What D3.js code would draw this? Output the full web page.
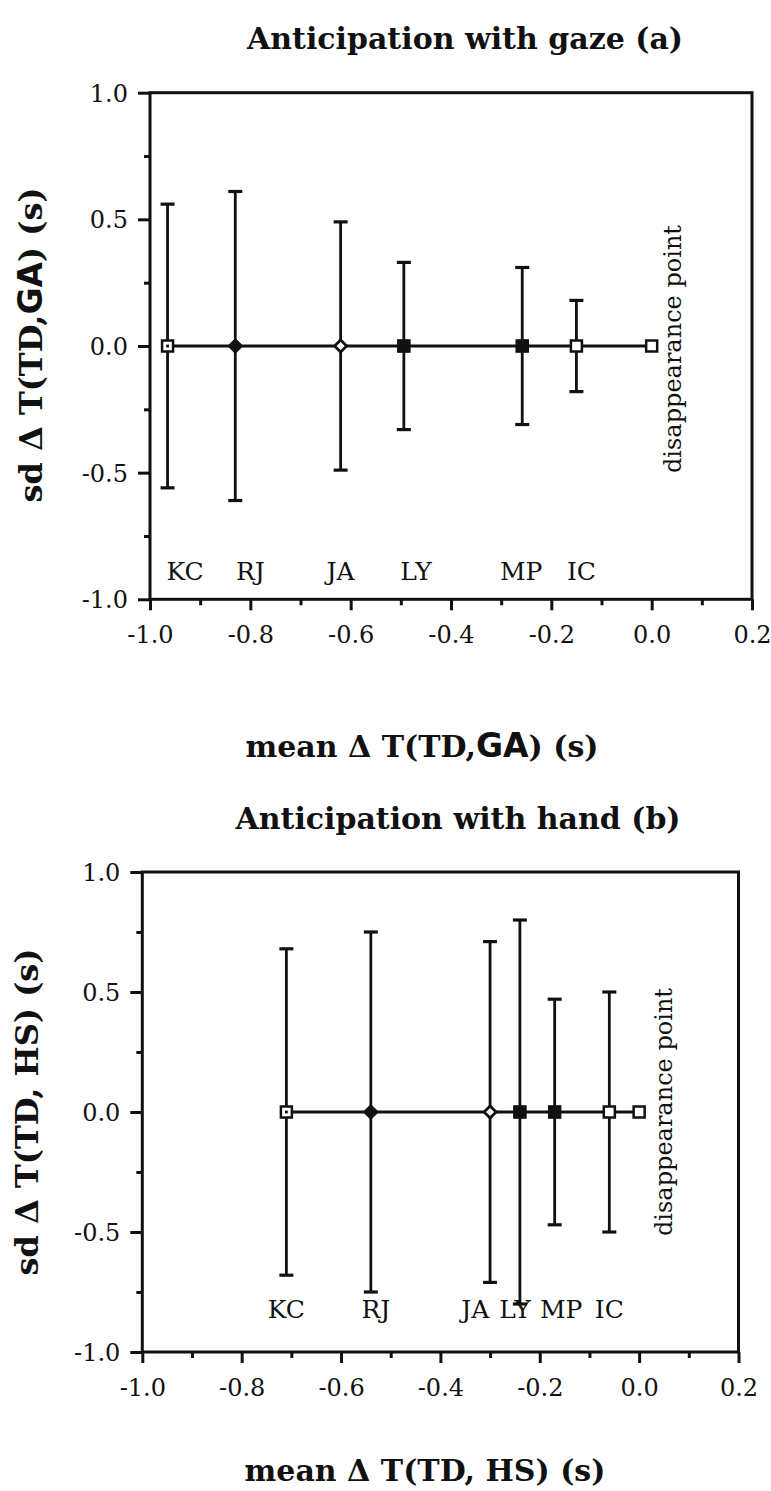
<!DOCTYPE html>
<html>
<head>
<meta charset="utf-8">
<script src="https://cdn.jsdelivr.net/npm/d3@7"></script>
<style>
  html, body { margin: 0; padding: 0; background: #ffffff; }
  svg { display: block; }
  text { fill: #111; }
</style>
</head>
<body>
<svg id="fig" width="771" height="1491"></svg>
<script>
// Subjects and their anticipation statistics (seconds)
const subjects = ["KC", "RJ", "JA", "LY", "MP", "IC"];

// (a) gaze: mean and sd of ΔT(TD,GA)
const gazeMean = [-0.965, -0.830, -0.620, -0.494, -0.258, -0.150];
const gazeSd   = [0.56, 0.61, 0.49, 0.33, 0.31, 0.18];
const gazeLabelX = [-0.93, -0.80, -0.62, -0.47, -0.26, -0.14];

// (b) hand: mean and sd of ΔT(TD,HS)
const handMean = [-0.71, -0.54, -0.30, -0.24, -0.17, -0.06];
const handSd   = [0.68, 0.75, 0.71, 0.80, 0.47, 0.50];
const handLabelX = [-0.71, -0.53, -0.33, -0.25, -0.157, -0.06];

// Reference: the target's disappearance point
const disappearanceX = 0.0;

const xTickValues = [-1.0, -0.8, -0.6, -0.4, -0.2, 0.0, 0.2];
const xMinorValues = [-0.9, -0.7, -0.5, -0.3, -0.1, 0.1];
const yTickValues = [-1.0, -0.5, 0.0, 0.5, 1.0];
const yMinorValues = [-0.75, -0.25, 0.25, 0.75];

// Marker shape used for each subject
const markerBySubject = {
  KC: "dotSquare", RJ: "diamond", JA: "openDiamond",
  LY: "square", MP: "square", IC: "openSquare"
};

const svg = d3.select("#fig");
const SERIF = "'DejaVu Serif', 'Liberation Serif', serif";
const INK = "#111";
const fmt = d => d3.format(".1f")(d).replace("\u2212", "-");

function drawMarker(g, shape, cx, cy) {
  if (shape === "diamond" || shape === "openDiamond") {
    const r = shape === "diamond" ? 7.5 : 6;
    g.append("path")
      .attr("d", `M${cx},${cy - r}L${cx + r},${cy}L${cx},${cy + r}L${cx - r},${cy}Z`)
      .attr("fill", shape === "diamond" ? INK : "#fff")
      .attr("stroke", INK).attr("stroke-width", shape === "diamond" ? 1 : 2.8);
  } else {
    const s = shape === "square" ? 12.5 : 11;
    g.append("rect")
      .attr("x", cx - s / 2).attr("y", cy - s / 2)
      .attr("width", s).attr("height", s)
      .attr("fill", shape === "square" ? INK : "#fff")
      .attr("stroke", INK).attr("stroke-width", shape === "square" ? 1 : 2.5);
    if (shape === "dotSquare") {
      g.append("rect").attr("x", cx - 1.4).attr("y", cy - 1.4)
        .attr("width", 2.8).attr("height", 2.8).attr("fill", INK);
    }
  }
}

function drawPanel(cfg) {
  const x = d3.scaleLinear().domain([-1.0, 0.2]).range([cfg.left, cfg.right]);
  const y = d3.scaleLinear().domain([-1.0, 1.0]).range([cfg.bottom, cfg.top]);
  const g = svg.append("g");

  // title
  g.append("text")
    .attr("x", cfg.titleX).attr("y", cfg.titleY)
    .attr("text-anchor", "middle")
    .style("font-family", SERIF).style("font-weight", "bold").style("font-size", "30px")
    .text(cfg.title);

  // major / minor ticks
  const xMajor = g.append("g").attr("transform", `translate(0,${cfg.bottom})`)
    .call(d3.axisBottom(x).tickValues(xTickValues).tickSize(11).tickSizeOuter(0)
      .tickFormat(fmt).tickPadding(16));
  const xMinor = g.append("g").attr("transform", `translate(0,${cfg.bottom})`)
    .call(d3.axisBottom(x).tickValues(xMinorValues).tickSize(6).tickSizeOuter(0).tickFormat(""));
  const yMajor = g.append("g").attr("transform", `translate(${cfg.left},0)`)
    .call(d3.axisLeft(y).tickValues(yTickValues).tickSize(12).tickSizeOuter(0)
      .tickFormat(fmt).tickPadding(10));
  const yMinor = g.append("g").attr("transform", `translate(${cfg.left},0)`)
    .call(d3.axisLeft(y).tickValues(yMinorValues).tickSize(6).tickSizeOuter(0).tickFormat(""));

  [xMajor, xMinor, yMajor, yMinor].forEach(a => {
    a.select(".domain").remove();
    a.selectAll(".tick line").attr("stroke", INK).attr("stroke-width", 3);
    a.selectAll(".tick text")
      .style("font-family", SERIF).style("font-size", "24px").attr("fill", INK);
  });
  yMajor.selectAll(".tick text").attr("dy", "0.36em");

  // frame
  g.append("rect")
    .attr("x", cfg.left).attr("y", cfg.top)
    .attr("width", cfg.right - cfg.left).attr("height", cfg.bottom - cfg.top)
    .attr("fill", "none").attr("stroke", INK).attr("stroke-width", 3);

  // axis titles
  const xt = g.append("text")
    .attr("x", cfg.xTitleX).attr("y", cfg.xTitleY).attr("text-anchor", "middle")
    .style("font-family", SERIF).style("font-weight", "bold").style("font-size", "30px");
  xt.append("tspan").text(cfg.xTitle[0]);
  xt.append("tspan").style("font-family", cfg.tagFont).style("font-size", cfg.tagSize).text(cfg.xTitle[1]);
  xt.append("tspan").text(cfg.xTitle[2]);

  const yt = g.append("text")
    .attr("transform", `translate(${cfg.yTitleX},${cfg.yTitleY}) rotate(-90)`)
    .attr("text-anchor", "middle")
    .style("font-family", SERIF).style("font-weight", "bold").style("font-size", "32px");
  yt.append("tspan").text(cfg.yTitle[0]);
  yt.append("tspan").style("font-family", cfg.tagFont).style("font-size", cfg.tagSize).text(cfg.yTitle[1]);
  yt.append("tspan").text(cfg.yTitle[2]);

  const y0 = y(0);

  // connecting line through the means up to the disappearance point
  g.append("line")
    .attr("x1", x(d3.min(cfg.mean))).attr("x2", x(disappearanceX))
    .attr("y1", y0).attr("y2", y0)
    .attr("stroke", INK).attr("stroke-width", 2.8);

  // ±sd error bars
  const capW = 14;
  cfg.mean.forEach((m, i) => {
    const sd = cfg.sd[i];
    const cx = x(m);
    g.append("line").attr("x1", cx).attr("x2", cx)
      .attr("y1", y(sd)).attr("y2", y(-sd))
      .attr("stroke", INK).attr("stroke-width", 2.8);
    [sd, -sd].forEach(v => {
      g.append("line").attr("x1", cx - capW / 2).attr("x2", cx + capW / 2)
        .attr("y1", y(v)).attr("y2", y(v))
        .attr("stroke", INK).attr("stroke-width", 3.2);
    });
  });

  // markers
  cfg.mean.forEach((m, i) => drawMarker(g, markerBySubject[subjects[i]], x(m), y0));
  drawMarker(g, "openSquare", x(disappearanceX), y0);

  // subject labels
  subjects.forEach((s, i) => {
    g.append("text")
      .attr("x", x(cfg.labelX[i])).attr("y", y(cfg.labelY)).attr("dy", "0.36em")
      .attr("text-anchor", "middle")
      .style("font-family", SERIF).style("font-size", "25px")
      .text(s);
  });

  // disappearance point annotation
  g.append("text")
    .attr("transform", `translate(${cfg.dpX},${cfg.dpY}) rotate(-90)`)
    .attr("text-anchor", "middle").attr("dy", "0.36em")
    .style("font-family", SERIF).style("font-size", "24px")
    .text("disappearance point");
}

drawPanel({
  title: "Anticipation with gaze (a)", titleX: 465, titleY: 49,
  left: 150, right: 752, top: 92.7, bottom: 599.3,
  mean: gazeMean, sd: gazeSd, labelX: gazeLabelX, labelY: -0.89,
  xTitle: ["mean Δ T(TD,", "GA", ") (s)"], xTitleX: 422, xTitleY: 757,
  yTitle: ["sd Δ T(TD,", "GA", ") (s)"], yTitleX: 42, yTitleY: 345,
  tagFont: "'DejaVu Sans', sans-serif", tagSize: "33px",
  dpX: 672, dpY: 349
});

drawPanel({
  title: "Anticipation with hand (b)", titleX: 458, titleY: 829,
  left: 142.3, right: 738.5, top: 872, bottom: 1352,
  mean: handMean, sd: handSd, labelX: handLabelX, labelY: -0.82,
  xTitle: ["mean Δ T(TD, ", "HS", ") (s)"], xTitleX: 425, xTitleY: 1481,
  yTitle: ["sd Δ T(TD, ", "HS", ") (s)"], yTitleX: 38, yTitleY: 1112,
  tagFont: SERIF, tagSize: "inherit",
  dpX: 663, dpY: 1112
});
</script>
</body>
</html>
